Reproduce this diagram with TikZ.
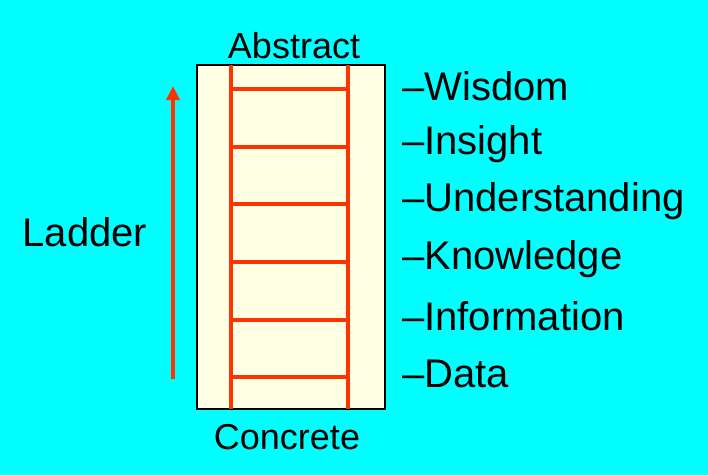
\documentclass[tikz,border=0pt]{standalone}
\usepackage{fontspec}
\setmainfont{Liberation Sans}
\usetikzlibrary{arrows.meta}
\definecolor{bg}{HTML}{00FFFF}
\definecolor{box}{HTML}{FFFFE3}
\definecolor{lad}{HTML}{FF3300}
\tikzset{rail/.style={lad,line width=3.2pt},
item/.style={anchor=west,inner sep=0pt,font=\fontsize{40}{44}\selectfont}}
\begin{document}
\begin{tikzpicture}[x=1pt,y=-1pt]
\fill[bg] (0,0) rectangle (708,475);
\useasboundingbox (0,0) rectangle (708,475);
\node[draw=black,line width=1.4pt,fill=box,minimum width=188pt,minimum height=344pt,inner sep=0pt] (bx) at (291,237) {};
\coordinate (lt) at (231,65); \coordinate (lb) at (231,409);
\coordinate (rt) at (348,65); \coordinate (rb) at (348,409);
\draw[rail] (lt) -- (lb);
\draw[rail] (rt) -- (rb);
\foreach \y in {89,147,204,262,320,377}{
  \coordinate (a) at (231,\y); \coordinate (b) at (348,\y);
  \draw[rail] (a) -- (b);}
\coordinate (as) at (173,379); \coordinate (ae) at (173,86);
\draw[lad,line width=4.5pt,-{Triangle[length=14pt,width=13pt]}] (as) -- (ae);
\node[font=\fontsize{36}{40}\selectfont] (abs) at (294,46) {Abstract};
\node[font=\fontsize{36}{40}\selectfont] (con) at (287,437) {Concrete};
\node[font=\fontsize{40}{44}\selectfont] (lad) at (85,232) {Ladder};
\node[item] (w) at (402,86) {–Wisdom};
\node[item] (i) at (402,144) {–Insight};
\node[item] (u) at (402,201) {–Understanding};
\node[item] (k) at (402,259) {–Knowledge};
\node[item] (f) at (402,316) {–Information};
\node[item] (d) at (402,374) {–Data};
\end{tikzpicture}
\end{document}
